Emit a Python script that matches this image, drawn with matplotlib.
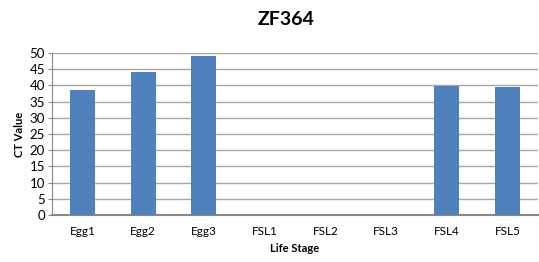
import matplotlib
matplotlib.use("Agg")
import matplotlib.pyplot as plt

stages = ["Egg1", "Egg2", "Egg3", "FSL1", "FSL2", "FSL3", "FSL4", "FSL5"]
ct_values = [38.6, 44.2, 49.0, 0, 0, 0, 39.9, 39.5]
y_ticks = list(range(0, 55, 5))

plt.rcParams["font.family"] = ["Lato", "DejaVu Sans"]

fig = plt.figure(figsize=(5.39, 2.62), dpi=100)
ax = fig.add_axes([0.0965, 0.179, 0.9015, 0.619])

x = range(len(stages))
ax.bar(x, ct_values, width=0.41, color="#4f81bd", zorder=3)

ax.set_xlim(-0.5, len(stages) - 0.5)
ax.set_ylim(0, 50)
ax.set_yticks(y_ticks)
ax.set_xticks(list(x))
ax.set_xticklabels(stages)
ax.yaxis.grid(True, color="#a6a6a6", linewidth=1, zorder=0)
ax.tick_params(axis="y", labelsize=9.5, length=3, color="#888888", pad=2)
ax.tick_params(axis="x", labelsize=8.5, length=0, pad=8)

for side in ["top", "right"]:
    ax.spines[side].set_visible(False)
ax.spines["left"].set_color("#888888")
ax.spines["bottom"].set_color("#888888")
ax.spines["bottom"].set_linewidth(1.5)

ax.set_xlabel("Life Stage", fontsize=8, fontweight="bold", labelpad=4)
ax.set_ylabel("CT Value", fontsize=8, fontweight="bold", labelpad=3)
fig.text(0.53, 0.925, "ZF364", ha="center", va="center", fontsize=14, fontweight="bold")

fig.savefig("out.png", dpi=100)
